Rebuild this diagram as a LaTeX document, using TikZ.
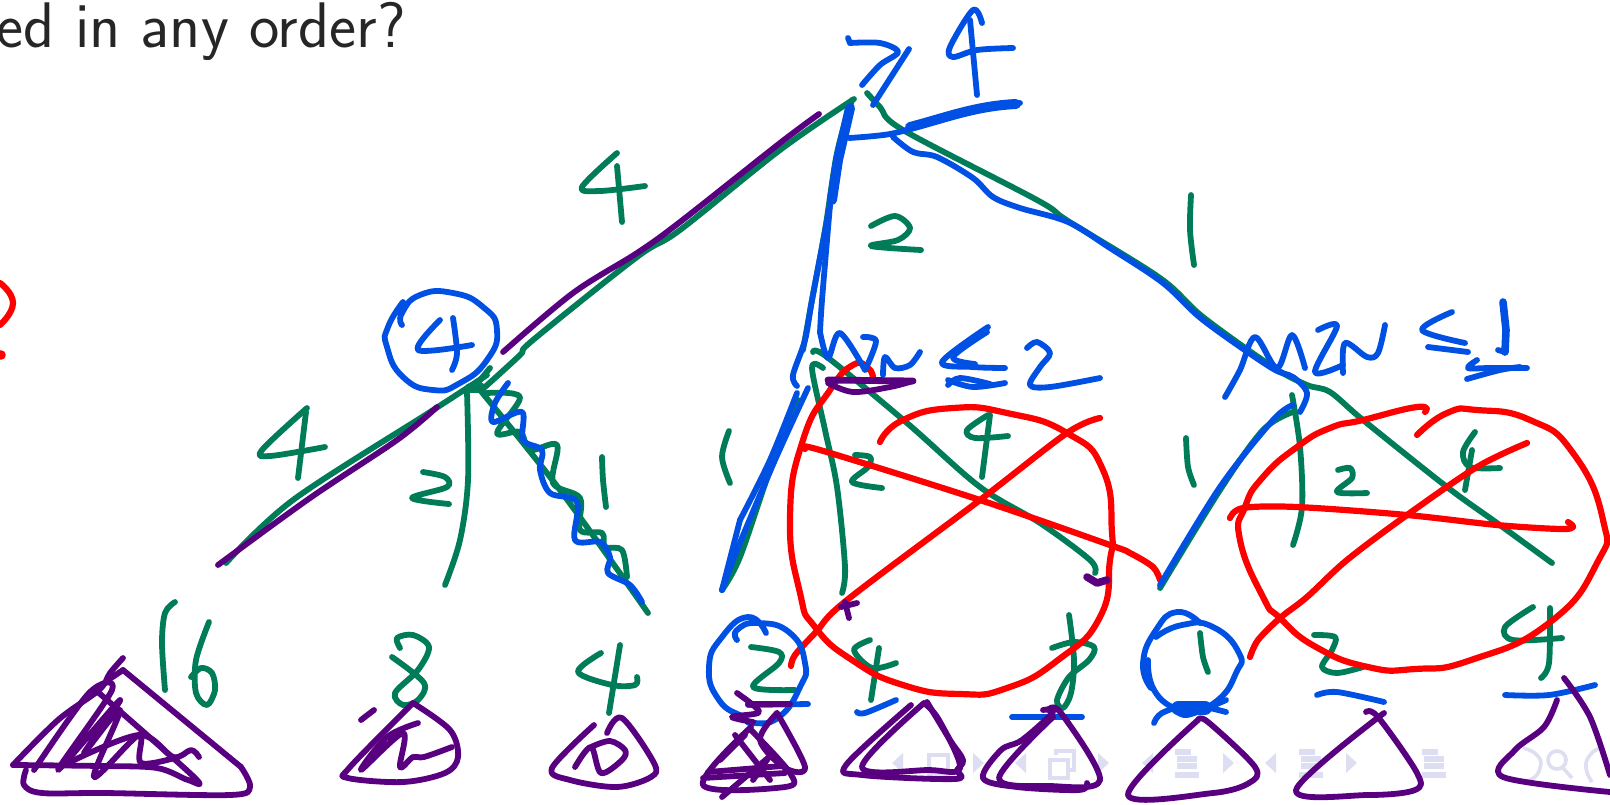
\documentclass[tikz,border=0pt]{standalone}
\definecolor{gk}{RGB}{0,125,88}
\definecolor{bk}{RGB}{0,80,228}
\definecolor{pk}{RGB}{88,0,128}
\definecolor{rk}{RGB}{255,0,0}
\definecolor{nv}{RGB}{222,222,242}
\newcommand{\strk}[2]{\draw[#1] plot[smooth,tension=.55] coordinates {#2};}
\newcommand{\strkc}[2]{\draw[#1] plot[smooth,tension=.9] coordinates {#2};}
\tikzset{
 ink/.style={line cap=round,line join=round,line width=2.9pt},
 gr/.style={ink,draw=gk},
 bl/.style={ink,draw=bk},
 pu/.style={ink,draw=pk},
 rd/.style={ink,draw=rk,line width=3.1pt},
 navtri/.style={fill=nv,draw=none},
 navline/.style={draw=nv,line width=1.8pt},
 navbar/.style={draw=nv,line width=2.6pt}
}
\begin{document}
\begin{tikzpicture}[x=0.5pt,y=-0.5pt]
\useasboundingbox (0,0) rectangle (1610,804);
\fill[white] (0,0) rectangle (1610,804);
\begin{scope}
\clip (0,0) rectangle (1610,804);
\node[anchor=base east,inner sep=0pt,text=black!85] (qtext) at (406,47) {\fontsize{32.2pt}{38pt}\selectfont\sffamily ed in any order?};
% navigation symbols
\foreach \x in {898,1021,1148,1271}{\fill[navtri] (\x+5,753) -- (\x+5,773) -- (\x-6,763) -- cycle;}
\foreach \x in {978,1103,1228,1351}{\fill[navtri] (\x-5,753) -- (\x-5,773) -- (\x+6,763) -- cycle;}
\draw[navline] (929,755) rectangle (948,775);
\draw[navline] (1050,760) rectangle (1068,778);
\draw[navline] (1056,755) -- (1056,751) -- (1074,751) -- (1074,770) -- (1069,770);
\foreach \x in {1187,1311,1434}{
 \draw[navbar] (\x-12,752) -- (\x+4,752);
 \draw[navbar] (\x-10,759) -- (\x+10,759);
 \draw[navbar] (\x-10,766) -- (\x+10,766);
 \draw[navbar] (\x-12,775) -- (\x+12,775);
}
\strkc{navline}{(1523,748)(1537,755)(1540,768)(1530,780)(1515,780)}
\draw[navline] (1557,760) circle (4.5pt);
\draw[navline] (1563,768) -- (1572,778);
\strkc{navline}{(1600,748)(1590,755)(1586,768)(1592,782)}
% green tree
\strk{gr}{(854,99)(780,150)(680,230)(637,257)(533,340)(520,355)(485,387)}
\strk{gr}{(852,100)(837,153)(825,230)(812,300)(803,350)}
\strk{gr}{(867,93)(880,107)(903,130)(1037,200)(1068,221)(1160,278)(1203,317)(1273,367)(1307,385)(1330,392)(1363,420)(1447,487)(1497,523)(1552,563)}
\strk{gr}{(487,375)(430,412)(293,500)(226,563)}
\strk{gr}{(467,392)(468,480)(460,540)(445,585)}
\strk{gr}{(480,390)(560,490)(648,613)}
\strk{gr}{(487,393)(520,397)(497,433)(520,432)(530,450)(557,445)(553,483)(580,498)(580,530)(602,533)(605,547)(622,550)(627,577)}
\draw[gr,line width=5pt] (470,388) -- (482,388);
\draw[gr] (476,385) -- (490,368);
\strk{gr}{(798,400)(770,470)(740,557)(722,590)}
\strk{gr}{(823,368)(812,368)(825,430)(837,487)(845,567)(842,593)}
\strk{gr}{(813,352)(827,357)(907,423)(980,487)(1040,523)(1090,560)(1095,573)}
\strk{gr}{(1160,588)(1220,490)(1263,430)(1293,412)}
\strk{gr}{(1292,395)(1300,447)(1302,507)(1293,545)}
% green labels
\strk{gr}{(617,153)(582,187)(600,191)(645,186)}
\strk{gr}{(617,166)(622,222)}
\strk{gr}{(871,226)(895,216)(910,228)(898,240)(871,246)(921,250)}
\strk{gr}{(1191,195)(1190,230)(1194,265)}
\strk{gr}{(307,408)(262,450)(270,456)(325,447)}
\strk{gr}{(306,412)(298,478)}
\strk{gr}{(423,472)(445,477)(447,487)(412,498)(449,504)}
\strk{gr}{(602,457)(603,480)(606,507)}
\strk{gr}{(729,431)(722,457)(730,483)}
\strk{gr}{(855,455)(870,457)(868,467)(852,482)(882,488)}
\strk{gr}{(988,415)(967,430)(975,438)(1008,436)}
\strk{gr}{(990,415)(982,477)}
\strk{gr}{(1186,438)(1188,467)(1194,485)}
\strk{gr}{(1338,470)(1350,468)(1352,478)(1337,492)(1367,493)}
\strk{gr}{(1475,432)(1463,452)(1470,467)(1500,468)}
\strk{gr}{(1472,450)(1465,490)}
\strk{gr}{(175,602)(165,613)(162,643)(165,690)}
\strk{gr}{(209,622)(196,660)(196,693)(207,705)(215,690)(212,673)(201,668)(191,677)}
\strk{gr}{(400,648)(397,638)(413,635)(429,647)(418,670)(395,693)(403,705)(418,700)(424,683)(392,657)}
\strk{gr}{(601,653)(578,672)(612,685)(635,685)(637,677)}
\strk{gr}{(620,645)(609,713)}
\strk{gr}{(751,647)(779,652)(779,663)(753,687)(795,690)}
\strk{gr}{(870,640)(854,650)(872,668)(896,663)}
\strk{gr}{(879,648)(871,700)}
\strk{gr}{(1069,615)(1074,660)(1071,693)(1063,708)(1057,700)(1069,677)(1089,660)(1094,647)(1074,642)(1052,648)}
\strk{gr}{(1200,633)(1203,657)(1208,672)}
\strk{gr}{(1314,635)(1335,637)(1332,650)(1322,667)(1337,673)(1363,667)}
\strk{gr}{(1533,607)(1505,627)(1513,640)(1562,638)}
\strk{gr}{(1550,608)(1549,663)(1541,678)}
% red
\strkc{rd}{(873,378)(868,368)(853,365)(830,390)(803,440)(790,517)(800,593)(815,627)(852,660)(903,685)(960,694)(1007,688)(1058,660)(1100,617)(1110,560)(1112,533)(1103,470)(1067,433)(1007,413)(953,408)(903,420)(880,442)}
\strk{rd}{(805,449)(820,450)(980,500)(1110,545)(1130,553)(1153,567)(1160,580)}
\strk{rd}{(1100,418)(1067,433)(980,500)(847,600)(816,632)(795,655)(791,666)}
\strkc{rd}{(1425,412)(1417,407)(1363,420)(1330,428)(1297,447)(1263,477)(1245,507)(1240,540)(1263,597)(1280,618)(1316,647)(1368,667)(1415,669)(1471,660)(1549,623)(1597,563)(1603,520)(1573,453)(1530,420)(1477,410)(1447,413)(1417,435)}
\strk{rd}{(1230,518)(1243,508)(1297,507)(1407,515)(1497,525)(1560,529)(1573,527)(1568,522)}
\strk{rd}{(1527,443)(1477,467)(1407,515)(1347,560)(1307,597)(1280,618)(1258,640)(1250,657)}
\strkc{rd}{(0,283)(13,303)(0,325)}
\fill[rk] (1,355) circle (2.4pt);
% blue
\strk{bl}{(850,43)(880,43)(898,52)(880,65)(862,85)}
\draw[bl] (848,38) -- (850,43);
\strk{bl}{(909,49)(873,105)}
\strk{bl}{(982,23)(973,10)(950,47)(953,57)(977,50)(1013,48)}
\strk{bl}{(970,20)(977,95)}
\strk{bl}{(849,138)(890,134)(930,123)(980,107)(1020,103)}
\draw[bl,line width=5pt] (910,127) .. controls (945,118) and (975,106) .. (1016,104);
\strk{bl}{(893,137)(913,152)(937,157)(973,178)(993,197)(1020,208)(1068,222)(1110,248)(1163,283)(1203,320)(1270,367)(1293,377)(1307,393)(1300,412)}
\draw[bl,line width=5pt] (850,108) -- (838,160) -- (832,200);
\strk{bl}{(830,205)(822,300)(820,333)}
\strk{bl}{(830,205)(812,300)(805,340)(793,375)(797,386)}
% MIN <= 2
\strk{bl}{(820,332)(828,358)(840,333)(865,370)}
\strk{bl}{(863,337)(876,341)(866,368)}
\strk{bl}{(883,375)(885,357)(895,368)(910,365)(920,352)}
\strk{bl}{(988,327)(942,362)(973,367)(1005,368)}
\strk{bl}{(987,332)(953,357)(975,364)}
\strk{bl}{(948,380)(973,387)(1005,383)}
\strk{bl}{(948,385)(960,378)(990,384)}
\strk{bl}{(1027,348)(1037,342)(1050,353)(1040,367)(1030,385)(1050,387)(1100,378)}
\strk{bl}{(797,393)(770,460)(740,520)}
\strk{bl}{(740,520)(722,590)}
\strk{bl}{(808,388)(775,460)(737,550)(722,590)}
% MIN <= 1
\strk{bl}{(1225,397)(1240,370)(1255,337)(1277,368)(1292,335)(1305,368)}
\strk{bl}{(1318,330)(1337,326)(1315,372)(1343,365)}
\strk{bl}{(1343,373)(1345,343)(1367,357)(1378,353)(1385,325)}
\strk{bl}{(1452,312)(1422,330)(1465,343)}
\strk{bl}{(1428,347)(1468,352)}
\draw[bl,line width=3.8pt] (1503,302) -- (1506,330) -- (1505,352);
\draw[bl] (1498,350) -- (1505,352);
\strk{bl}{(1477,360)(1468,368)(1490,368)(1527,368)}
\strk{bl}{(1467,379)(1500,370)(1520,367)}
\strk{bl}{(1160,585)(1220,487)(1273,420)(1293,405)}
% node 4 circle + zigzag
\strkc{bl}{(403,302)(388,327)(387,347)(403,377)(433,390)(460,383)(487,360)(497,330)(483,307)(453,293)(420,295)(402,313)(402,325)}
\strk{bl}{(440,320)(418,350)(472,345)}
\strk{bl}{(453,318)(457,353)(452,370)}
\strk{bl}{(508,383)(495,403)(493,422)(522,412)(523,440)(542,450)(540,470)(550,493)(577,502)(575,540)(600,542)(610,557)(608,573)(630,585)(642,602)}
% circles round 2 and 1
\strkc{bl}{(766,633)(748,617)(722,637)(709,667)(719,700)(743,717)(753,723)(779,717)(800,687)(805,663)(790,633)(758,623)(737,630)(737,640)}
\draw[bl] (748,705) -- (808,704);
\strk{bl}{(857,712)(865,713)(896,700)}
\draw[bl] (1012,717) -- (1082,717);
\strkc{bl}{(1200,623)(1177,612)(1156,630)(1143,663)(1151,688)}
\strkc{bl}{(1156,637)(1182,625)(1213,627)(1239,653)(1236,673)(1218,700)(1190,712)(1177,710)(1154,690)(1148,660)}
\strk{bl}{(1154,723)(1162,713)(1190,705)(1226,712)}
\strk{bl}{(1172,707)(1187,715)(1226,700)}
\draw[bl,line width=7pt] (1178,708) -- (1205,708);
\strk{bl}{(1317,695)(1337,692)(1384,702)}
\strk{bl}{(1505,695)(1549,695)(1595,685)}
% purple
\strk{pu}{(819,114)(780,143)(680,222)(637,253)(573,293)(503,352)}
\strk{pu}{(437,407)(397,440)(310,498)(218,565)}
\draw[pu,line width=3.4pt] (828,380) -- (913,381);
\strk{pu}{(828,383)(853,392)(890,387)(913,381)}
\draw[pu,line width=3.8pt] (1087,577) -- (1097,583) -- (1107,580);
\strk{pu}{(841,607)(857,603)}
\strk{pu}{(845,602)(849,618)}
% big triangle
\strkc{pu}{(123,670)(241,767)}
\strk{pu}{(241,767)(250,787)(230,795)(105,793)(42,793)(24,785)(26,770)}
\draw[pu] (123,670) -- (108,680);
\strk{pu}{(123,658)(110,673)(99,690)(58,720)(13,765)}
\strk{pu}{(13,765)(100,766)(157,768)(188,780)(194,777)(99,693)}
\strk{pu}{(34,770)(89,693)(112,690)(58,770)(120,700)(84,753)(120,710)(94,777)(139,735)(141,763)(178,757)}
\strk{pu}{(68,763)(139,735)(173,757)(191,750)(199,757)}
% 8 triangle
\strk{pu}{(374,710)(361,720)}
\strk{pu}{(413,703)(350,767)(348,778)(403,782)(445,773)(458,757)(450,730)(413,703)}
\strk{pu}{(418,723)(387,737)(361,770)(403,733)(400,767)(413,757)(424,757)(452,747)}
% 4 triangle
\strk{pu}{(594,725)(552,768)(570,780)(617,787)(651,777)(654,763)(622,718)(607,733)}
\strk{pu}{(575,767)(591,747)(601,773)(622,760)(625,750)(610,741)(591,747)}
% 2 triangle
\strk{pu}{(737,693)(753,705)(758,713)(732,717)(753,722)}
\draw[pu] (748,704) -- (790,704);
\strk{pu}{(777,713)(805,767)(785,768)(760,740)(777,713)}
\strk{pu}{(751,727)(703,785)(785,787)(790,773)(751,730)}
\draw[pu] (703,778) -- (785,773);
\draw[pu] (708,772) -- (782,766);
\draw[pu] (722,797) -- (769,757) -- (753,780);
\draw[pu] (735,735) -- (770,780);
\draw[pu] (720,760) -- (745,735);
% other triangles
\strk{pu}{(911,705)(846,765)(862,775)(955,779)(957,770)(963,760)(950,740)(927,702)}
\strk{pu}{(924,703)(862,767)(929,770)(960,768)(939,720)(924,703)}
\strk{pu}{(1043,710)(1053,712)(1022,740)(1001,750)(983,778)(1017,787)(1079,790)(1087,783)}
\strk{pu}{(1053,717)(999,778)(1050,786)(1100,780)(1061,713)(1048,710)}
\strk{pu}{(1198,720)(1128,795)(1213,793)(1249,783)(1255,767)(1208,722)(1198,720)}
\strk{pu}{(1366,712)(1378,717)(1417,773)(1415,790)(1368,795)(1296,790)(1384,713)}
\strk{pu}{(1557,700)(1544,727)(1515,750)(1503,777)(1610,792)}
\strk{pu}{(1564,678)(1590,717)(1610,775)}
\end{scope}
\end{tikzpicture}
\end{document}
